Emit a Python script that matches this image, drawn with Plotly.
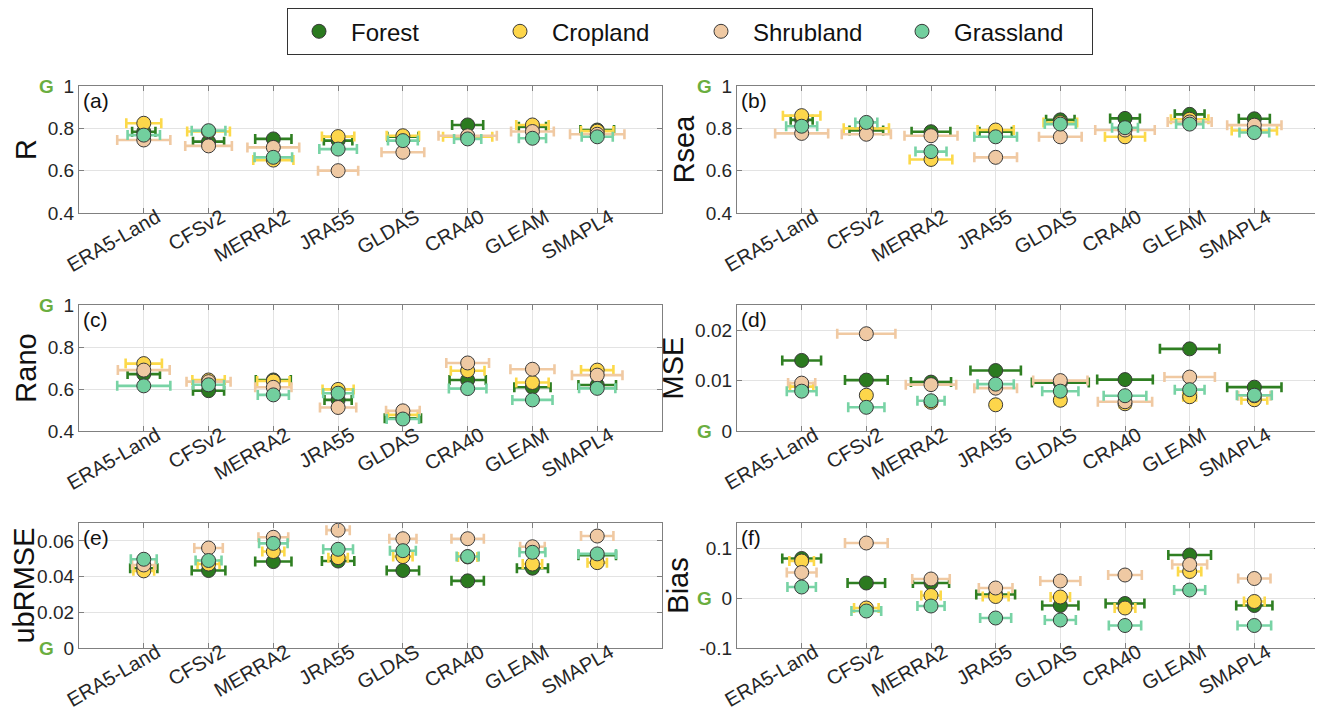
import plotly.graph_objects as go

# ---------------- data ----------------
categories = ["ERA5-Land", "CFSv2", "MERRA2", "JRA55", "GLDAS", "CRA40", "GLEAM", "SMAPL4"]
landcovers = ["Forest", "Cropland", "Shrubland", "Grassland"]

# (a) R
r_forest = [0.784, 0.737, 0.750, 0.742, 0.760, 0.816, 0.808, 0.792]
r_crop = [0.824, 0.785, 0.650, 0.761, 0.765, 0.760, 0.816, 0.787]
r_shrub = [0.745, 0.717, 0.710, 0.600, 0.687, 0.765, 0.785, 0.772]
r_grass = [0.768, 0.789, 0.663, 0.702, 0.742, 0.750, 0.753, 0.760]
r_forest_err = [0.18, 0.24, 0.28, 0.22, 0.24, 0.24, 0.21, 0.26]
r_crop_err = [0.27, 0.33, 0.31, 0.25, 0.25, 0.38, 0.25, 0.25]
r_shrub_err = [0.41, 0.36, 0.40, 0.31, 0.33, 0.45, 0.33, 0.42]
r_grass_err = [0.25, 0.26, 0.29, 0.29, 0.23, 0.21, 0.21, 0.24]

# (b) Rsea
rsea_forest = [0.840, 0.790, 0.784, 0.784, 0.840, 0.847, 0.866, 0.845]
rsea_crop = [0.860, 0.800, 0.653, 0.792, 0.827, 0.760, 0.843, 0.790]
rsea_shrub = [0.776, 0.772, 0.765, 0.663, 0.760, 0.792, 0.830, 0.815]
rsea_grass = [0.810, 0.828, 0.690, 0.760, 0.820, 0.803, 0.820, 0.780]
rsea_forest_err = [0.17, 0.26, 0.30, 0.25, 0.22, 0.23, 0.23, 0.24]
rsea_crop_err = [0.29, 0.35, 0.33, 0.28, 0.26, 0.31, 0.29, 0.35]
rsea_shrub_err = [0.41, 0.38, 0.41, 0.33, 0.33, 0.46, 0.34, 0.42]
rsea_grass_err = [0.24, 0.17, 0.24, 0.33, 0.24, 0.20, 0.21, 0.23]

# (c) Rano
rano_forest = [0.671, 0.592, 0.643, 0.548, 0.461, 0.643, 0.608, 0.619]
rano_crop = [0.721, 0.643, 0.638, 0.598, 0.477, 0.687, 0.631, 0.690]
rano_shrub = [0.690, 0.635, 0.608, 0.512, 0.496, 0.724, 0.694, 0.666]
rano_grass = [0.615, 0.620, 0.572, 0.580, 0.457, 0.602, 0.548, 0.603]
rano_forest_err = [0.25, 0.24, 0.27, 0.21, 0.28, 0.28, 0.28, 0.29]
rano_crop_err = [0.28, 0.25, 0.25, 0.24, 0.23, 0.26, 0.25, 0.25]
rano_shrub_err = [0.40, 0.34, 0.28, 0.28, 0.26, 0.33, 0.34, 0.39]
rano_grass_err = [0.41, 0.24, 0.24, 0.23, 0.25, 0.29, 0.31, 0.28]

# (d) MSE
mse_forest = [0.0140, 0.0101, 0.0097, 0.0120, 0.0096, 0.0102, 0.0163, 0.0087]
mse_crop = [0.0088, 0.0071, 0.0057, 0.0052, 0.0061, 0.0054, 0.0068, 0.0062]
mse_shrub = [0.0095, 0.0193, 0.0092, 0.0085, 0.0100, 0.0058, 0.0107, 0.0070]
mse_grass = [0.0079, 0.0047, 0.0060, 0.0093, 0.0079, 0.0070, 0.0082, 0.0071]
mse_forest_err = [0.30, 0.33, 0.31, 0.39, 0.44, 0.43, 0.46, 0.42]
mse_crop_err = [0.18, 0.06, 0.08, 0.06, 0.08, 0.08, 0.10, 0.20]
mse_shrub_err = [0.21, 0.45, 0.39, 0.33, 0.42, 0.42, 0.39, 0.25]
mse_grass_err = [0.23, 0.28, 0.21, 0.28, 0.28, 0.33, 0.23, 0.27]

# (e) ubRMSE
ubrmse_forest = [0.0447, 0.0434, 0.0484, 0.0487, 0.0434, 0.0376, 0.0447, 0.0520]
ubrmse_crop = [0.0432, 0.0470, 0.0540, 0.0506, 0.0512, 0.0510, 0.0470, 0.0478]
ubrmse_shrub = [0.0465, 0.0560, 0.0620, 0.0660, 0.0612, 0.0612, 0.0567, 0.0627]
ubrmse_grass = [0.0497, 0.0490, 0.0586, 0.0553, 0.0545, 0.0512, 0.0536, 0.0527]
ubrmse_forest_err = [0.21, 0.26, 0.28, 0.25, 0.25, 0.25, 0.24, 0.29]
ubrmse_crop_err = [0.16, 0.17, 0.17, 0.15, 0.15, 0.15, 0.15, 0.15]
ubrmse_shrub_err = [0.18, 0.22, 0.23, 0.18, 0.21, 0.25, 0.19, 0.25]
ubrmse_grass_err = [0.20, 0.20, 0.22, 0.23, 0.20, 0.17, 0.20, 0.29]

# (f) Bias
bias_forest = [0.079, 0.030, 0.030, 0.007, -0.015, -0.011, 0.086, -0.015]
bias_crop = [0.074, -0.020, 0.005, 0.003, 0.002, -0.020, 0.053, -0.007]
bias_shrub = [0.051, 0.110, 0.038, 0.020, 0.034, 0.046, 0.067, 0.039]
bias_grass = [0.022, -0.026, -0.016, -0.040, -0.044, -0.055, 0.016, -0.055]
bias_forest_err = [0.30, 0.29, 0.28, 0.30, 0.28, 0.30, 0.33, 0.28]
bias_crop_err = [0.19, 0.19, 0.15, 0.20, 0.15, 0.16, 0.18, 0.16]
bias_shrub_err = [0.23, 0.33, 0.29, 0.26, 0.31, 0.26, 0.27, 0.25]
bias_grass_err = [0.22, 0.23, 0.21, 0.24, 0.24, 0.25, 0.24, 0.26]

# y-axis tick values/labels per panel
r_ticks = [0.4, 0.6, 0.8, 1.0]
r_ticklabels = ["0.4", "0.6", "0.8", "1"]
mse_ticks = [0, 0.01, 0.02]
mse_ticklabels = ["0", "0.01", "0.02"]
ubrmse_ticks = [0, 0.02, 0.04, 0.06]
ubrmse_ticklabels = ["0", "0.02", "0.04", "0.06"]
bias_ticks = [-0.1, 0, 0.1]
bias_ticklabels = ["-0.1", "0", "0.1"]

# ---------------- styling ----------------
# the page adds an 8px body margin, so the figure is 8px smaller and all
# page-pixel positions below are shifted by that offset
OFF = 8
W, H = 1323 - OFF, 720 - OFF


def px_x(p):
    return (p - OFF) / W


def px_y(p):
    return 1 - (p - OFF) / H


marker_colors = {"Forest": "#2b7a1f", "Cropland": "#fdd64b", "Shrubland": "#efc9a3", "Grassland": "#72cf9e"}
err_colors = {"Forest": "#2f7f22", "Cropland": "#fcd94a", "Shrubland": "#f0c9a2", "Grassland": "#78d3a5"}
FONT = "Liberation Sans, Arial, sans-serif"
TXT = "#262626"
FRAME = "#808080"
GRID = "#e3e3e3"
GCOL = "#6aae3f"

x_pos = [i + 1 for i in range(len(categories))]

panels = [
    dict(title="R", letter="(a)", vals=[r_forest, r_crop, r_shrub, r_grass],
         errs=[r_forest_err, r_crop_err, r_shrub_err, r_grass_err],
         yr=[0.4, 1.0], tv=r_ticks, tt=r_ticklabels, good=1.0),
    dict(title="Rsea", letter="(b)", vals=[rsea_forest, rsea_crop, rsea_shrub, rsea_grass],
         errs=[rsea_forest_err, rsea_crop_err, rsea_shrub_err, rsea_grass_err],
         yr=[0.4, 1.0], tv=r_ticks, tt=r_ticklabels, good=1.0),
    dict(title="Rano", letter="(c)", vals=[rano_forest, rano_crop, rano_shrub, rano_grass],
         errs=[rano_forest_err, rano_crop_err, rano_shrub_err, rano_grass_err],
         yr=[0.4, 1.0], tv=r_ticks, tt=r_ticklabels, good=1.0),
    dict(title="MSE", letter="(d)", vals=[mse_forest, mse_crop, mse_shrub, mse_grass],
         errs=[mse_forest_err, mse_crop_err, mse_shrub_err, mse_grass_err],
         yr=[0, 0.025], tv=mse_ticks, tt=mse_ticklabels, good=0.0),
    dict(title="ubRMSE", letter="(e)", vals=[ubrmse_forest, ubrmse_crop, ubrmse_shrub, ubrmse_grass],
         errs=[ubrmse_forest_err, ubrmse_crop_err, ubrmse_shrub_err, ubrmse_grass_err],
         yr=[0, 0.07], tv=ubrmse_ticks, tt=ubrmse_ticklabels, good=0.0),
    dict(title="Bias", letter="(f)", vals=[bias_forest, bias_crop, bias_shrub, bias_grass],
         errs=[bias_forest_err, bias_crop_err, bias_shrub_err, bias_grass_err],
         yr=[-0.1, 0.15], tv=bias_ticks, tt=bias_ticklabels, good=0.0),
]

# page-pixel boxes of plot areas (left, right) and (top, bottom)
col_px = [(79, 662), (737, 1319)]
row_px = [(86, 213), (305, 431), (523, 648)]

fig = go.Figure()
layout = dict(
    width=W, height=H, margin=dict(l=0, r=0, t=0, b=0),
    paper_bgcolor="white", plot_bgcolor="white",
    font=dict(family=FONT, color=TXT, size=18),
    showlegend=True,
    legend=dict(orientation="h", x=px_x(690), xanchor="center", y=px_y(8), yanchor="top",
                bordercolor="#333333", borderwidth=1.2, bgcolor="white",
                font=dict(family=FONT, size=24, color="#111111"),
                entrywidth=132, entrywidthmode="pixels", itemwidth=54,
                tracegroupgap=0),
)
annotations = []

for i, p in enumerate(panels):
    col = i % 2
    row = i // 2
    n = i + 1
    xa = "x" if n == 1 else f"x{n}"
    ya = "y" if n == 1 else f"y{n}"
    l, r = col_px[col]
    t, b = row_px[row]
    xdom = [px_x(l), px_x(r)]
    ydom = [px_y(b), px_y(t)]
    for k, lc in enumerate(landcovers):
        fig.add_trace(go.Scatter(
            x=x_pos, y=p["vals"][k], mode="markers", name=lc,
            legendgroup=lc, showlegend=(i == 0),
            xaxis=xa, yaxis=ya,
            marker=dict(size=14, color=marker_colors[lc], line=dict(color="#3a3a3a", width=1)),
            error_x=dict(type="data", array=p["errs"][k], symmetric=True,
                         color=err_colors[lc], thickness=2.6, width=5),
        ))
    axkey_x = "xaxis" if n == 1 else f"xaxis{n}"
    axkey_y = "yaxis" if n == 1 else f"yaxis{n}"
    layout[axkey_x] = dict(
        domain=xdom, anchor=ya, range=[0, len(categories) + 1],
        tickmode="array", tickvals=x_pos, ticktext=categories, tickangle=-30,
        tickfont=dict(family=FONT, size=20, color=TXT),
        ticklabelstandoff=-16, ticklabelshift=13,
        showgrid=True, gridcolor=GRID, gridwidth=1, zeroline=False,
        showline=True, linecolor=FRAME, linewidth=1.3, mirror="ticks",
        ticks="inside", ticklen=5, tickcolor=FRAME, automargin=False, fixedrange=True,
    )
    layout[axkey_y] = dict(
        domain=ydom, anchor=xa, range=p["yr"],
        tickmode="array", tickvals=p["tv"], ticktext=p["tt"],
        tickfont=dict(family=FONT, size=19, color=TXT),
        title=dict(text=p["title"], font=dict(family=FONT, size=29, color="#111111"), standoff=2),
        showgrid=True, gridcolor=GRID, gridwidth=1, zeroline=False,
        showline=True, linecolor=FRAME, linewidth=1.3, mirror="ticks",
        ticks="inside", ticklen=5, tickcolor=FRAME, automargin=False, fixedrange=True,
    )
    # panel letter
    annotations.append(dict(text=p["letter"], xref=f"{xa} domain", yref=f"{ya} domain",
                            x=0.004, y=0.99, xanchor="left", yanchor="top", showarrow=False,
                            font=dict(family=FONT, size=21, color="#111111")))
    # green "G" marking the ideal value
    gy = b - (p["good"] - p["yr"][0]) / (p["yr"][1] - p["yr"][0]) * (b - t)
    gx = l - 33
    annotations.append(dict(text="<b>G</b>", xref="paper", yref="paper",
                            x=px_x(gx), y=px_y(gy), xanchor="center", yanchor="middle",
                            showarrow=False, font=dict(family=FONT, size=19, color=GCOL)))

layout["annotations"] = annotations
fig.update_layout(**layout)
fig.write_html("out.html")
